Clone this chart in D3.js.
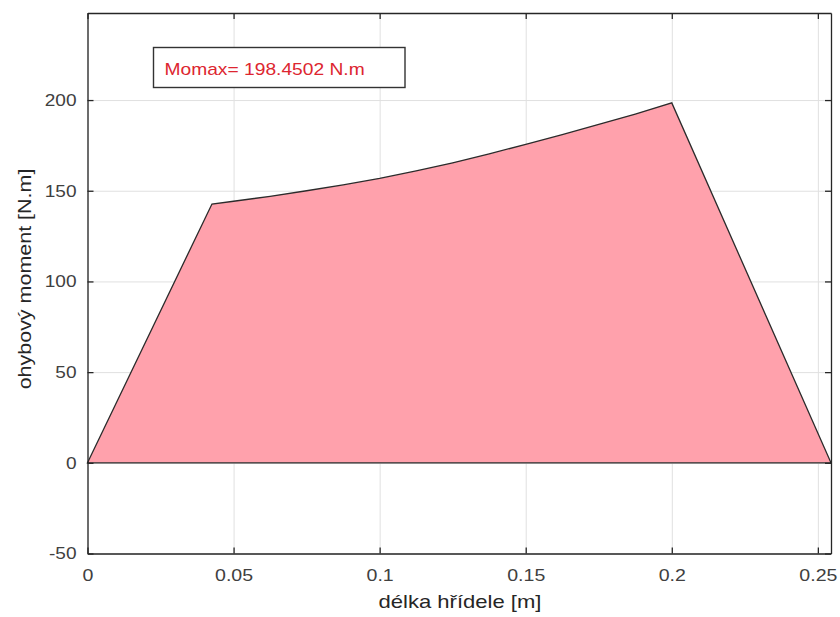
<!DOCTYPE html>
<html>
<head>
 <meta charset="UTF-8">
 <title>Ohybový moment</title>
 <script type="text/javascript" src="https://cdn.jsdelivr.net/npm/d3@7"></script>
 <style>
body {
  margin: 0;
  background: #fff;
}
svg text {
  font-family: "Liberation Sans", Arial, sans-serif;
}
.grid line {
  stroke: #e0e0e0;
  stroke-width: 1px;
}
.grid path {
  display: none;
}
.axis path, .axis line {
  stroke: #262626;
  stroke-width: 1.3px;
}
.axis text {
  fill: #404040;
  font-size: 17px;
}
.momarea {
  fill: #ffa1ac;
  stroke: #2b2b2b;
  stroke-width: 1.3px;
}
 </style>
</head>
<body>
<svg id="chart"></svg>
<script type="text/javascript">
// hodnoty
var delka = [0, 0.0426, 0.05, 0.0625, 0.075, 0.0875, 0.1, 0.1125, 0.125, 0.1375, 0.15, 0.1625, 0.175, 0.1875, 0.2, 0.2545];
var moment = [0, 142.7, 144.2, 146.9, 150.0, 153.2, 156.8, 160.9, 165.4, 170.3, 175.6, 180.9, 186.6, 192.3, 198.45, 0];
var xTicks = [0, 0.05, 0.1, 0.15, 0.2, 0.25];
var yTicks = [-50, 0, 50, 100, 150, 200];
var xLabel = "délka hřídele [m]";
var yLabel = "ohybový moment [N.m]";
var boxText = "Momax= 198.4502 N.m";

var width = 840,
  height = 617,
  pLeft = 87.5, pRight = 831, pTop = 13, pBottom = 553.5;

var svg = d3.select("#chart")
  .attr("width", width)
  .attr("height", height);

var x = d3.scaleLinear().domain([0, 0.2545]).range([pLeft, pRight]),
  y = d3.scaleLinear().domain([-50, 248]).range([pBottom, pTop]);

// stretch text horizontally like the resized figure
function stretch(sel, k){
  sel.each(function(){
    var w = this.getComputedTextLength();
    d3.select(this).attr("textLength", w*k).attr("lengthAdjust", "spacingAndGlyphs");
  });
}

// grid
svg.append("g")
  .attr("class", "grid")
  .attr("transform", "translate(0,"+pBottom+")")
  .call(d3.axisBottom(x).tickValues(xTicks).tickSize(-(pBottom-pTop)).tickFormat(""));
svg.append("g")
  .attr("class", "grid")
  .attr("transform", "translate("+pLeft+",0)")
  .call(d3.axisLeft(y).tickValues(yTicks).tickSize(-(pRight-pLeft)).tickFormat(""));

// area
var pts = delka.map(function(d, i){ return [d, moment[i]]; });
svg.append("path")
  .attr("class", "momarea")
  .attr("d", d3.line()
    .x(function(d){ return x(d[0]); })
    .y(function(d){ return y(d[1]); })
    (pts) + "Z");

// axes, ticks inward on all four sides
var fmt = function(d){ return String(d); };
var xa = svg.append("g")
  .attr("class", "axis")
  .attr("transform", "translate(0,"+pBottom+")")
  .call(d3.axisBottom(x).tickValues(xTicks).tickSizeInner(-6).tickSizeOuter(0).tickPadding(15).tickFormat(fmt));
xa.selectAll("text").call(stretch, 1.15);
var ya = svg.append("g")
  .attr("class", "axis")
  .attr("transform", "translate("+pLeft+",0)")
  .call(d3.axisLeft(y).tickValues(yTicks).tickSizeInner(-6).tickSizeOuter(0).tickPadding(11).tickFormat(fmt));
ya.selectAll("text").call(stretch, 1.12);
svg.append("g")
  .attr("class", "axis")
  .attr("transform", "translate(0,"+pTop+")")
  .call(d3.axisTop(x).tickValues(xTicks).tickSizeInner(-6).tickSizeOuter(0).tickFormat(""));
svg.append("g")
  .attr("class", "axis")
  .attr("transform", "translate("+pRight+",0)")
  .call(d3.axisRight(y).tickValues(yTicks).tickSizeInner(-6).tickSizeOuter(0).tickFormat(""));

// axis labels
svg.append("text")
  .attr("x", 460)
  .attr("y", 608)
  .attr("text-anchor", "middle")
  .style("font-size", "19px")
  .style("fill", "#262626")
  .text(xLabel)
  .call(stretch, 1.16);
svg.append("text")
  .attr("transform", "translate(31,279) rotate(-90)")
  .attr("text-anchor", "middle")
  .style("font-size", "19px")
  .style("fill", "#262626")
  .text(yLabel)
  .call(stretch, 1.13);

// annotation box
svg.append("rect")
  .attr("x", 153.5)
  .attr("y", 47.5)
  .attr("width", 251.5)
  .attr("height", 40)
  .style("fill", "#fff")
  .style("stroke", "#333")
  .style("stroke-width", 1.4);
svg.append("text")
  .attr("x", 164.5)
  .attr("y", 75)
  .style("font-size", "17px")
  .style("fill", "#dd2630")
  .text(boxText)
  .call(stretch, 1.13);
</script>
</body>
</html>
